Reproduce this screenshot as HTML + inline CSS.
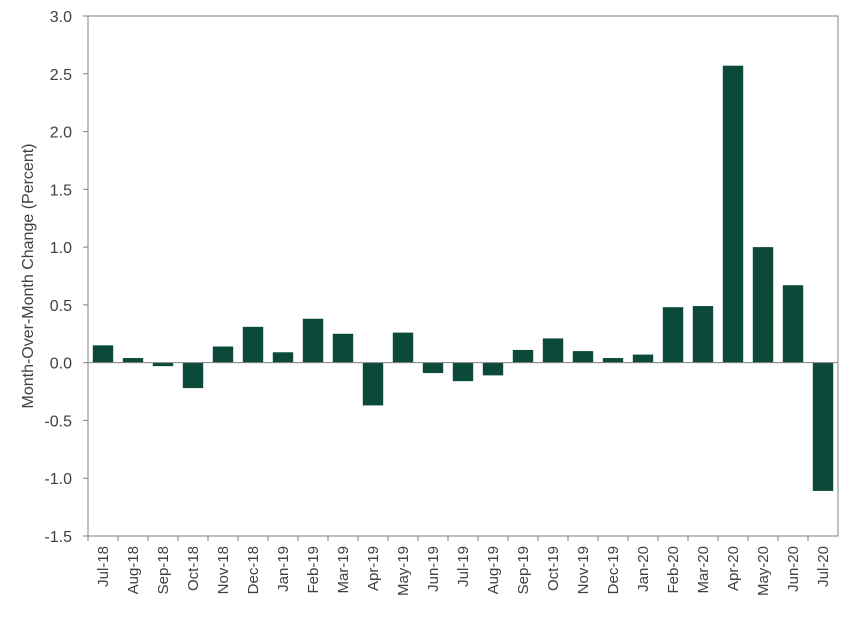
<!DOCTYPE html>
<html><head><meta charset="utf-8"><style>
body{margin:0;background:#fff;}
svg text{font-family:"Liberation Sans",Arial,sans-serif;fill:#404040;}
</style></head><body>
<svg id="chart" width="850" height="617" viewBox="0 0 850 617"></svg>
<script>
const categories=["Jul-18","Aug-18","Sep-18","Oct-18","Nov-18","Dec-18","Jan-19","Feb-19","Mar-19","Apr-19","May-19","Jun-19","Jul-19","Aug-19","Sep-19","Oct-19","Nov-19","Dec-19","Jan-20","Feb-20","Mar-20","Apr-20","May-20","Jun-20","Jul-20"];
const values=[0.15,0.04,-0.03,-0.22,0.14,0.31,0.09,0.38,0.25,-0.37,0.26,-0.09,-0.16,-0.11,0.11,0.21,0.10,0.04,0.07,0.48,0.49,2.57,1.00,0.67,-1.11];
const yTicks=[3.0,2.5,2.0,1.5,1.0,0.5,0.0,-0.5,-1.0,-1.5];
const NS="http://www.w3.org/2000/svg";
const svg=document.getElementById('chart');
const L=88,R=838,T=16,B=536,yMax=3,yMin=-1.5;
const y=v=>T+(yMax-v)/(yMax-yMin)*(B-T);
const step=(R-L)/categories.length;
const x=i=>L+i*step;
function mk(t,a){const e=document.createElementNS(NS,t);for(const k in a)e.setAttribute(k,a[k]);svg.appendChild(e);return e;}
const frame=mk('rect',{x:L,y:T,width:R-L,height:B-T,fill:'none',stroke:'#808080','stroke-width':1});


yTicks.forEach(v=>{
  const tk=mk('line',{x1:L-5,x2:L,y1:y(v),y2:y(v),stroke:'#808080'});
  
  
  const t=mk('text',{x:L-16,y:y(v)+6,'text-anchor':'end','font-size':16});
  t.textContent=v.toFixed(1);
  
  
});
values.forEach((v,i)=>{
  const bw=step*0.68;
  const r=mk('rect',{x:x(i)+(step-bw)/2,y:Math.min(y(v),y(0)),width:bw,height:Math.abs(y(v)-y(0)),fill:'#0b4a3b'});
  
  
});
const zl=mk('line',{x1:L,x2:R,y1:y(0),y2:y(0),stroke:'#808080'});


categories.forEach((c,i)=>{
  const tk=mk('line',{x1:x(i),x2:x(i),y1:B,y2:B+5,stroke:'#808080'});
  
  
  const cx=x(i)+step/2+5,cy=B+10;
  const t=mk('text',{x:cx,y:cy,'text-anchor':'end','font-size':15,transform:`rotate(-90 ${cx} ${cy})`});
  t.textContent=c;
  
  
});
const yt=mk('text',{x:33,y:276,'text-anchor':'middle','font-size':16,transform:'rotate(-90 33 276)'});
yt.textContent='Month-Over-Month Change (Percent)';


</script>
</body></html>
